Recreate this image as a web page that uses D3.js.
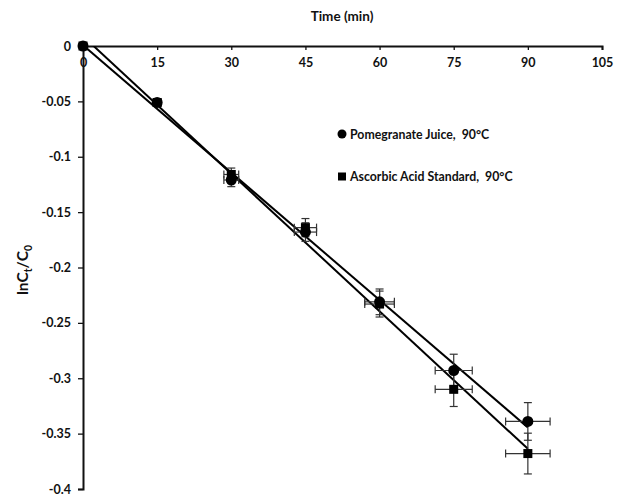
<!DOCTYPE html>
<html><head><meta charset="utf-8">
<script src="https://cdn.jsdelivr.net/npm/d3@7"></script>
<style>
body{margin:0;background:#fff;}
text{font-family:Lato,"Open Sans",sans-serif;font-weight:bold;fill:#111;white-space:pre;}
</style></head>
<body><svg id="c" width="626" height="497"></svg>
<script>
const time = [0, 15, 30, 45, 60, 75, 90];
const pomegranate = [0, -0.051, -0.121, -0.168, -0.231, -0.293, -0.339];
const ascorbic = [0, -0.051, -0.116, -0.164, -0.233, -0.310, -0.368];
const timeErr = [0, 0.75, 1.5, 2.25, 3, 3.75, 4.5];
const pomErr = [0, 0.0026, 0.006, 0.0084, 0.0116, 0.0147, 0.017];
const ascErr = [0, 0.0026, 0.0058, 0.0082, 0.0117, 0.0155, 0.0184];
const xTicks = [0, 15, 30, 45, 60, 75, 90, 105];
const yTicks = [0, -0.05, -0.1, -0.15, -0.2, -0.25, -0.3, -0.35, -0.4];
const seriesNames = ["Pomegranate Juice,\u00a0 90°C", "Ascorbic Acid Standard,\u00a0 90°C"];

const svg = d3.select("#c");
const x = d3.scaleLinear().domain([0, 105]).range([83, 602]);
const y = d3.scaleLinear().domain([-0.4, 0]).range([489, 46]);

svg.append("clipPath").attr("id", "pa").append("rect")
  .attr("x", x(0)).attr("y", y(0)).attr("width", x(105) - x(0)).attr("height", y(-0.4) - y(0));

const xAxis = svg.append("g").attr("transform", `translate(0,${y(0)})`)
  .call(d3.axisBottom(x).tickValues(xTicks).tickSize(4).tickPadding(8).tickFormat(d3.format("d")));
const yAxis = svg.append("g").attr("transform", `translate(${x(0)},0)`)
  .call(d3.axisLeft(y).tickValues(yTicks).tickSize(5).tickPadding(7).tickFormat(d => d === 0 ? "0" : String(d)));
[xAxis, yAxis].forEach(g => {
  g.select(".domain").attr("stroke", "#111").attr("stroke-width", 2);
  g.selectAll(".tick line").attr("stroke", "#111").attr("stroke-width", 1.3);
  g.selectAll(".tick text").style("font-size", "12.5px").attr("fill", "#111");
});

function fit(xs, ys) {
  const n = xs.length, mx = d3.mean(xs), my = d3.mean(ys);
  let sxy = 0, sxx = 0;
  for (let i = 0; i < n; i++) { sxy += (xs[i] - mx) * (ys[i] - my); sxx += (xs[i] - mx) ** 2; }
  const b = sxy / sxx; return { b, a: my - b * mx };
}
const lines = svg.append("g").attr("clip-path", "url(#pa)");
[pomegranate, ascorbic].forEach(ys => {
  const f = fit(time, ys);
  const x0 = d3.min(time), x1 = d3.max(time);
  lines.append("line")
    .attr("x1", x(x0)).attr("y1", y(f.a + f.b * x0))
    .attr("x2", x(x1)).attr("y2", y(f.a + f.b * x1))
    .attr("stroke", "#000").attr("stroke-width", 2);
});

const eb = svg.append("g").attr("stroke", "#333").attr("stroke-width", 1.2);
function errBars(ys, ye) {
  time.forEach((t, i) => {
    const cx = x(t), cy = y(ys[i]);
    if (timeErr[i] > 0) {
      const xl = x(t - timeErr[i]), xr = x(t + timeErr[i]);
      eb.append("line").attr("x1", xl).attr("x2", xr).attr("y1", cy).attr("y2", cy);
      eb.append("line").attr("x1", xl).attr("x2", xl).attr("y1", cy - 4).attr("y2", cy + 4);
      eb.append("line").attr("x1", xr).attr("x2", xr).attr("y1", cy - 4).attr("y2", cy + 4);
    }
    if (ye[i] > 0) {
      const yt = y(ys[i] + ye[i]), yb = y(ys[i] - ye[i]);
      eb.append("line").attr("x1", cx).attr("x2", cx).attr("y1", yt).attr("y2", yb);
      eb.append("line").attr("x1", cx - 4).attr("x2", cx + 4).attr("y1", yt).attr("y2", yt);
      eb.append("line").attr("x1", cx - 4).attr("x2", cx + 4).attr("y1", yb).attr("y2", yb);
    }
  });
}
errBars(pomegranate, pomErr);
errBars(ascorbic, ascErr);

svg.append("g").selectAll("circle").data(time).join("circle")
  .attr("cx", d => x(d)).attr("cy", (d, i) => y(pomegranate[i])).attr("r", 5.5).attr("fill", "#000");
svg.append("g").selectAll("rect").data(time).join("rect")
  .attr("x", d => x(d) - 4.5).attr("y", (d, i) => y(ascorbic[i]) - 4.5)
  .attr("width", 9).attr("height", 9).attr("fill", "#000");

const lg = svg.append("g");
lg.append("circle").attr("cx", 342).attr("cy", 134).attr("r", 4.5).attr("fill", "#000");
lg.append("text").attr("x", 350).attr("y", 138.5).style("font-size", "12.3px").text(seriesNames[0]);
lg.append("rect").attr("x", 338).attr("y", 172.5).attr("width", 8).attr("height", 8).attr("fill", "#000");
lg.append("text").attr("x", 350).attr("y", 181).style("font-size", "12.3px").text(seriesNames[1]);

svg.append("text").attr("x", 342).attr("y", 21).attr("text-anchor", "middle")
  .style("font-size", "13.5px").text("Time (min)");
const yt = svg.append("text").attr("transform", "translate(28,270) rotate(-90)")
  .attr("text-anchor", "middle").style("font-size", "15.5px");
yt.append("tspan").text("lnC");
yt.append("tspan").attr("dy", 4).style("font-size", "10.5px").text("t");
yt.append("tspan").attr("dy", -4).text("/C");
yt.append("tspan").attr("dy", 4).style("font-size", "10.5px").text("0");
</script></body></html>
